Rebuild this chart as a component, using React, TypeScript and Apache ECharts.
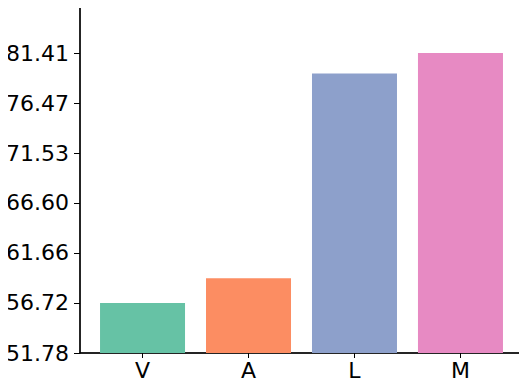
import React, { useEffect, useRef } from "react";
import * as echarts from "echarts";

const categories = ["V", "A", "L", "M"];
const values = [56.72, 59.16, 79.38, 81.41];
const colors = ["#66c2a5", "#fc8d62", "#8da0cb", "#e78ac3"];
const yTicks = [51.78, 56.72, 61.66, 66.6, 71.53, 76.47, 81.41];
const yMin = 51.78;
const yMax = 86.35;
const xMin = -0.59;
const xMax = 3.59;
const xPositions = [0, 1, 2, 3];

export default function App() {
  const ref = useRef<HTMLDivElement>(null);
  useEffect(() => {
    if (!ref.current) return;
    const chart = echarts.init(ref.current, null, { renderer: "svg" });
    const font = "DejaVu Sans";
    chart.setOption({
      animation: false,
      grid: {
        left: 80,
        top: 3,
        right: 4,
        bottom: 34,
        outerBoundsMode: "none",
        show: true,
        borderColor: "#6f6f6f",
        borderWidth: 1.5,
      },
      xAxis: {
        type: "value",
        min: xMin,
        max: xMax,
        splitLine: { show: false },
        axisLine: { show: true, onZero: false, lineStyle: { color: "#000", width: 1.5 } },
        axisTick: {
          show: true,
          length: 5,
          inside: false,
          customValues: xPositions,
          lineStyle: { color: "#000" },
        },
        axisLabel: {
          customValues: xPositions,
          formatter: (v: number) => categories[Math.round(v)] ?? "",
          fontFamily: font,
          fontSize: 22,
          color: "#000",
          margin: 6,
        },
      },
      yAxis: {
        type: "value",
        min: yMin,
        max: yMax,
        splitLine: { show: false },
        axisLine: { show: true, onZero: false, lineStyle: { color: "#000", width: 1.5 } },
        axisTick: {
          show: true,
          length: 6,
          inside: false,
          customValues: yTicks,
          lineStyle: { color: "#000" },
        },
        axisLabel: {
          customValues: yTicks,
          formatter: (v: number) => v.toFixed(2),
          fontFamily: font,
          fontSize: 22,
          color: "#000",
          margin: 11,
        },
      },
      series: [
        {
          type: "bar",
          barWidth: 85,
          clip: true,
          data: values.map((v, i) => ({
            value: [xPositions[i], v],
            itemStyle: { color: colors[i] },
          })),
        },
      ],
    });
    return () => chart.dispose();
  }, []);
  return <div ref={ref} style={{ width: 527, height: 387, margin: -8 }} />;
}
